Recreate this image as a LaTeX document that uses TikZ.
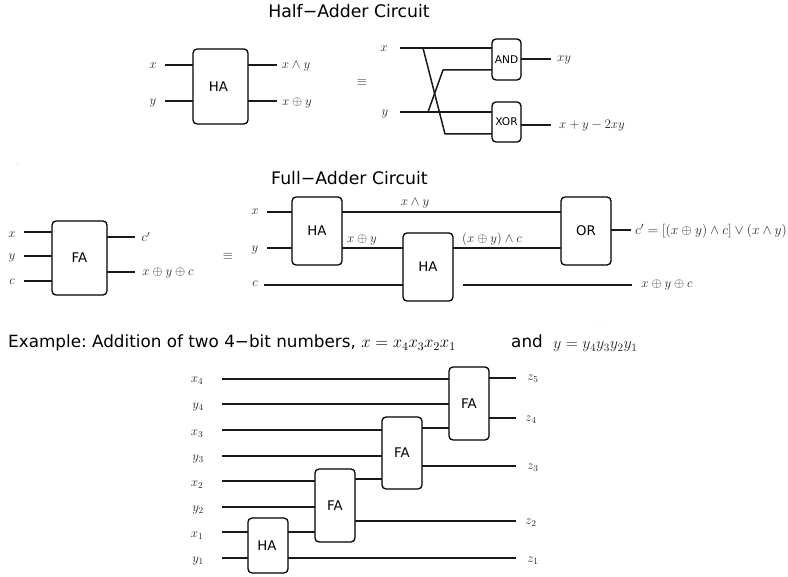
\RequirePackage{fix-cm}
\documentclass[tikz,border=0pt]{standalone}
\usepackage{fontspec}
\setmainfont{DejaVu Sans}
\begin{document}
\frenchspacing
\begin{tikzpicture}[x=1pt,y=-1pt,
  wire/.style={line width=1.5pt,black!90},
  gate/.style={draw,line width=1.3pt,rounded corners=4pt,fill=white,inner sep=0pt,outer sep=0pt,font=\fontsize{13.3}{15}\selectfont},
  smallgate/.style={gate,font=\fontsize{10.6}{12}\selectfont},
  mlab/.style={inner sep=0pt,text=black!85,font=\fontsize{13}{15}\selectfont},
  title/.style={inner sep=0pt,font=\fontsize{17.3}{19}\selectfont},
  exline/.style={inner sep=0pt,font=\fontsize{16.8}{19}\selectfont},
  speck/.style={fill=black!55,circle,inner sep=0pt,minimum size=0.9pt}]
\useasboundingbox (0,0) rectangle (788,577);

% Half-adder
\node[title] (t1) at (349,11) {Half−Adder Circuit};
\node[gate,minimum width=55pt,minimum height=75pt] (ha) at (220.5,86.5) {\hspace*{-4pt}\raisebox{-1.5pt}{HA}};
\node[gate,minimum width=29pt,minimum height=41pt,smallgate] (and) at (506.5,59.5) {AND};
\node[gate,minimum width=29pt,minimum height=40pt,smallgate] (xor) at (506.5,122) {XOR};
\node[mlab] (l1) at (153,66) {$x$};
\node[mlab] (l2) at (153,103) {$y$};
\node[mlab] (l3) at (296,66) {$x\wedge y$};
\node[mlab] (l4) at (297,103) {$x\oplus y$};
\node[mlab] (eq1) at (362,82) {$\equiv$};
\node[mlab] (l5) at (384,49) {$x$};
\node[mlab] (l6) at (385,114) {$y$};
\node[mlab] (l7) at (564,60) {$xy$};
\node[mlab] (l8) at (592,126) {$x+y-2xy$};
\coordinate (a1) at (165,65); \coordinate (a2) at (165,101);
\coordinate (a3) at (277,65); \coordinate (a4) at (277,101);
\coordinate (b1) at (400,48); \coordinate (b2) at (400,112);
\coordinate (b3) at (551,59); \coordinate (b4) at (551,125);
\coordinate (bx) at (423,48); \coordinate (bxk) at (445,134);
\coordinate (by) at (428,112); \coordinate (byk) at (443,70);
\draw[wire] (a1) -- (ha.west |- a1);
\draw[wire] (a2) -- (ha.west |- a2);
\draw[wire] (ha.east |- a3) -- (a3);
\draw[wire] (ha.east |- a4) -- (a4);
\draw[wire] (b1) -- (and.west |- b1);
\draw[wire] (b2) -- (xor.west |- b2);
\draw[wire,line join=round] (bx) -- (bxk) -- (xor.west |- bxk);
\draw[wire,line join=round] (by) -- (byk) -- (and.west |- byk);
\draw[wire] (and.east |- b3) -- (b3);
\draw[wire] (xor.east |- b4) -- (b4);

\node[speck] (s1) at (18,164) {};
\node[speck] (s2) at (600,321) {};

% Full-adder
\node[title] (t2) at (349.5,178) {Full−Adder Circuit};
\node[gate,minimum width=55pt,minimum height=74pt] (fa) at (79.5,258) {FA};
\node[gate,minimum width=50pt,minimum height=68pt] (h1) at (317,231) {HA};
\node[gate,minimum width=50pt,minimum height=68pt] (h2) at (428,267) {HA};
\node[gate,minimum width=50pt,minimum height=68pt] (or) at (586,231) {OR};
\node[mlab] (m1) at (12,235) {$x$};
\node[mlab] (m2) at (12,258) {$y$};
\node[mlab] (m3) at (12,282) {$c$};
\node[mlab] (m4) at (146,237) {$c'$};
\node[mlab] (m5) at (168,273) {$x\oplus y\oplus c$};
\node[mlab] (eq2) at (228,256) {$\equiv$};
\node[mlab] (m6) at (255,212) {$x$};
\node[mlab] (m7) at (255,250) {$y$};
\node[mlab] (m8) at (255,284) {$c$};
\node[mlab] (m9) at (415,203) {$x\wedge y$};
\node[mlab] (m10) at (362,240) {$x\oplus y$};
\node[mlab] (m11) at (492,239) {$(x\oplus y)\wedge c$};
\node[mlab,font=\fontsize{13.6}{15}\selectfont] (m12) at (711,231) {$c'=[(x\oplus y)\wedge c]\vee(x\wedge y)$};
\node[mlab] (m13) at (667,285) {$x\oplus y\oplus c$};
\coordinate (c1) at (24,232); \coordinate (c2) at (24,256); \coordinate (c3) at (24,281);
\coordinate (c4) at (135,237); \coordinate (c5) at (135,272);
\coordinate (d1) at (267,212); \coordinate (d2) at (267,248); \coordinate (d3) at (264,285);
\coordinate (d4) at (463,285); \coordinate (d5) at (632,285); \coordinate (d6) at (631,230);
\draw[wire] (c1) -- (fa.west |- c1);
\draw[wire] (c2) -- (fa.west |- c2);
\draw[wire] (c3) -- (fa.west |- c3);
\draw[wire] (fa.east |- c4) -- (c4);
\draw[wire] (fa.east |- c5) -- (c5);
\draw[wire] (d1) -- (h1.west |- d1);
\draw[wire] (d2) -- (h1.west |- d2);
\draw[wire] (d3) -- (h2.west |- d3);
\draw[wire] (h1.east |- d1) -- (or.west |- d1);
\draw[wire] (h1.east |- d2) -- (h2.west |- d2);
\draw[wire] (h2.east |- d2) -- (or.west |- d2);
\draw[wire] (d4) -- (d5);
\draw[wire] (or.east |- d6) -- (d6);

% Example
\node[exline,anchor=base west] (t3) at (8,348) {Example: Addition of two 4−bit numbers, $x=x_4x_3x_2x_1$};
\node[exline,anchor=base west] (t4) at (511,348) {and};
\node[exline,anchor=base west,text=black!85,font=\fontsize{16}{19}\selectfont] (t5) at (553,349) {$y=y_4y_3y_2y_1$};

\node[gate,minimum width=40pt,minimum height=73pt] (f4) at (469,403.5) {FA};
\node[gate,minimum width=40pt,minimum height=72pt] (f3) at (402,453) {FA};
\node[gate,minimum width=40pt,minimum height=73pt] (f2) at (335,505.5) {FA};
\node[gate,minimum width=40pt,minimum height=55pt] (h0) at (268,545.5) {\hspace*{-2pt}HA};
\node[mlab] (n1) at (197,381) {$x_4$};
\node[mlab] (n2) at (198,407) {$y_4$};
\node[mlab] (n3) at (197,434) {$x_3$};
\node[mlab] (n4) at (198,459) {$y_3$};
\node[mlab] (n5) at (197,485) {$x_2$};
\node[mlab] (n6) at (198,510) {$y_2$};
\node[mlab] (n7) at (197,536) {$x_1$};
\node[mlab] (n8) at (198,561) {$y_1$};
\node[mlab] (z5) at (533,379) {$z_5$};
\node[mlab] (z4) at (531,420) {$z_4$};
\node[mlab] (z3) at (533,468) {$z_3$};
\node[mlab] (z2) at (531,523) {$z_2$};
\node[mlab] (z1) at (533,561) {$z_1$};
\coordinate (e1) at (222,379); \coordinate (e2) at (222,404);
\coordinate (e3) at (222,430); \coordinate (e4) at (222,456);
\coordinate (e5) at (222,481); \coordinate (e6) at (222,507);
\coordinate (e7) at (222,532); \coordinate (e8) at (222,558);
\coordinate (o5) at (516,378); \coordinate (o4) at (516,418);
\coordinate (o3) at (516,466); \coordinate (o2) at (516,521);
\coordinate (o1) at (516,558);
\draw[wire] (e1) -- (f4.west |- e1);
\draw[wire] (e2) -- (f4.west |- e2);
\draw[wire] (e3) -- (f3.west |- e3);
\draw[wire] (e4) -- (f3.west |- e4);
\draw[wire] (e5) -- (f2.west |- e5);
\draw[wire] (e6) -- (f2.west |- e6);
\draw[wire] (e7) -- (h0.west |- e7);
\draw[wire] (e8) -- (h0.west |- e8);
\draw[wire] (h0.east |- e7) -- (f2.west |- e7);
\draw[wire] (f2.east |- 0,479) -- (f3.west |- 0,479);
\draw[wire] (f3.east |- 0,428) -- (f4.west |- 0,428);
\draw[wire] (f4.east |- o5) -- (o5);
\draw[wire] (f4.east |- o4) -- (o4);
\draw[wire] (f3.east |- o3) -- (o3);
\draw[wire] (f2.east |- o2) -- (o2);
\draw[wire] (h0.east |- o1) -- (o1);
\end{tikzpicture}
\end{document}
